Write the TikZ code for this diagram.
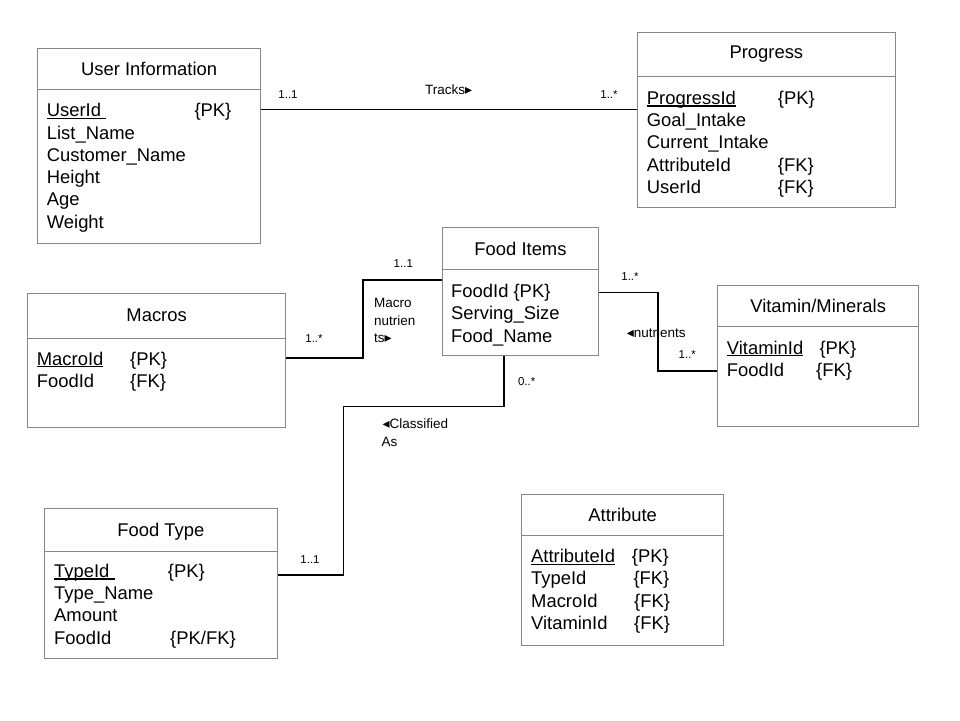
\documentclass[tikz,border=0pt]{standalone}
\usepackage{fontspec}
\setmainfont{Liberation Sans}
\newfontfamily\symfont{DejaVu Sans}
\usetikzlibrary{calc}
\definecolor{boxgray}{RGB}{135,135,135}
\newcommand{\ulx}[1]{\setbox0\hbox{#1}\rlap{\rule[-2.3pt]{\wd0}{1.2pt}}\box0}
\newcommand{\rtri}{{\symfont\fontsize{14}{14}\selectfont ▸}}
\newcommand{\ltri}{{\symfont\fontsize{14}{14}\selectfont ◂}}
\tikzset{
  ebox/.style={draw=boxgray, line width=1pt, inner sep=0, anchor=north west},
  divline/.style={draw=boxgray, line width=1pt},
  attr/.style={anchor=base west, inner sep=0, font=\fontsize{18.4}{22}\selectfont},
  ttl/.style={anchor=base, inner sep=0, font=\fontsize{18.4}{22}\selectfont},
  lbl/.style={anchor=west, inner sep=0, font=\fontsize{13.5}{16}\selectfont},
  mult/.style={anchor=center, inner sep=0, font=\fontsize{11.5}{13}\selectfont},
  conn/.style={draw=black, line width=1.1pt}
}
\begin{document}
\begin{tikzpicture}[x=1pt,y=-1pt]
\useasboundingbox (0,0) rectangle (960,720);
\fill[white] (0,0) rectangle (960,720);

% User Information
\node[ebox, minimum width=222.7, minimum height=195] (ui) at (37.3,48.3) {};
\draw[divline] (ui.west |- 0,89.3) -- (ui.east |- 0,89.3);
\node[ttl] (uiT) at (ui.north |- 0,75.5) {User Information};
\node[attr] (ui1) at (46.7,116.7) {\ulx{UserId\ }};
\node[attr] (ui1k) at (194.3,116.7) {\{PK\}};
\node[attr] (ui2) at (46.7,139) {List\_Name};
\node[attr] (ui3) at (46.7,161.3) {Customer\_Name};
\node[attr] (ui4) at (46.7,183.6) {Height};
\node[attr] (ui5) at (46.7,205.9) {Age};
\node[attr] (ui6) at (46.7,228.2) {Weight};

% Progress
\node[ebox, minimum width=258.3, minimum height=175] (pr) at (636.7,31.7) {};
\draw[divline] (pr.west |- 0,76.7) -- (pr.east |- 0,76.7);
\node[ttl] (prT) at (pr.north |- 0,58) {Progress};
\node[attr] (pr1) at (646.7,104.3) {\ulx{ProgressId}};
\node[attr] (pr1k) at (777.7,104.3) {\{PK\}};
\node[attr] (pr2) at (646.7,126.6) {Goal\_Intake};
\node[attr] (pr3) at (646.7,148.9) {Current\_Intake};
\node[attr] (pr4) at (646.7,171.2) {AttributeId};
\node[attr] (pr4k) at (777.7,171.2) {\{FK\}};
\node[attr] (pr5) at (646.7,193.5) {UserId};
\node[attr] (pr5k) at (777.7,193.5) {\{FK\}};

% Food Items
\node[ebox, minimum width=156.6, minimum height=127.7] (fi) at (441.7,227.3) {};
\draw[divline] (fi.west |- 0,269.3) -- (fi.east |- 0,269.3);
\node[ttl] (fiT) at (fi.north |- 0,255) {Food Items};
\node[attr] (fi1) at (451,297.5) {FoodId \{PK\}};
\node[attr] (fi2) at (451,319.8) {Serving\_Size};
\node[attr] (fi3) at (451,342.1) {Food\_Name};

% Macros
\node[ebox, minimum width=257.7, minimum height=133.4] (ma) at (27.3,293.3) {};
\draw[divline] (ma.west |- 0,338.3) -- (ma.east |- 0,338.3);
\node[ttl] (maT) at (ma.north |- 0,321.6) {Macros};
\node[attr] (ma1) at (36.7,365) {\ulx{MacroId}};
\node[attr] (ma1k) at (130,365) {\{PK\}};
\node[attr] (ma2) at (36.7,387.3) {FoodId};
\node[attr] (ma2k) at (130,387.3) {\{FK\}};

% Vitamin/Minerals
\node[ebox, minimum width=200.7, minimum height=141] (vm) at (717.3,285) {};
\draw[divline] (vm.west |- 0,326) -- (vm.east |- 0,326);
\node[ttl] (vmT) at (vm.north |- 0,312.5) {Vitamin/Minerals};
\node[attr] (vm1) at (726.7,354) {\ulx{VitaminId}};
\node[attr] (vm1k) at (819.3,354) {\{PK\}};
\node[attr] (vm2) at (726.7,376.3) {FoodId};
\node[attr] (vm2k) at (816,376.3) {\{FK\}};

% Food Type
\node[ebox, minimum width=232.7, minimum height=150] (ft) at (44,508.3) {};
\draw[divline] (ft.west |- 0,551) -- (ft.east |- 0,551);
\node[ttl] (ftT) at (ft.north |- 0,536.5) {Food Type};
\node[attr] (ft1) at (54,577.3) {\ulx{TypeId\ }};
\node[attr] (ft1k) at (167.7,577.3) {\{PK\}};
\node[attr] (ft2) at (54,599.6) {Type\_Name};
\node[attr] (ft3) at (54,621.9) {Amount};
\node[attr] (ft4) at (54,644.2) {FoodId};
\node[attr] (ft4k) at (170,644.2) {\{PK/FK\}};

% Attribute
\node[ebox, minimum width=202.3, minimum height=151] (at) at (521,494) {};
\draw[divline] (at.west |- 0,535) -- (at.east |- 0,535);
\node[ttl] (atT) at (at.north |- 0,521.5) {Attribute};
\node[attr] (at1) at (531,562.5) {\ulx{AttributeId}};
\node[attr] (at1k) at (631.7,562.5) {\{PK\}};
\node[attr] (at2) at (531,584.8) {TypeId};
\node[attr] (at2k) at (633.3,584.8) {\{FK\}};
\node[attr] (at3) at (531,607.1) {MacroId};
\node[attr] (at3k) at (634,607.1) {\{FK\}};
\node[attr] (at4) at (531,629.4) {VitaminId};
\node[attr] (at4k) at (634,629.4) {\{FK\}};

% Connectors
\draw[conn] (ui.east |- 0,109.3) -- (pr.west |- 0,109.3);
\node[mult] (m1) at (288,94.5) {1..1};
\node[lbl] (r1) at (425,89.7) {Tracks\rtri};
\node[mult] (m2) at (609,94.5) {1..*};

\draw[conn] (ma.east |- 0,358) -- (363,358) -- (363,280) -- (fi.west |- 0,280);
\node[mult] (m3) at (403.3,263.3) {1..1};
\node[mult] (m4) at (314,338.3) {1..*};
\node[lbl] (r2a) at (374,303.3) {Macro};
\node[lbl] (r2b) at (374,320.8) {nutrien};
\node[lbl] (r2c) at (374,338.5) {ts\rtri};

\draw[conn] (fi.east |- 0,292.5) -- (658,292.5) -- (658,371) -- (vm.west |- 0,371);
\node[mult] (m5) at (630,276.7) {1..*};
\node[lbl] (r3) at (626.7,332.3) {\ltri nutrients};
\node[mult] (m6) at (687.3,355) {1..*};

\draw[conn] (fi.south -| 504,0) -- (504,406.7) -- (343.3,406.7) -- (343.3,575) -- (ft.east |- 0,575);
\node[mult] (m7) at (526.7,381.7) {0..*};
\node[lbl] (r4a) at (382.5,424) {\ltri Classified};
\node[lbl] (r4b) at (381.5,442) {As};
\node[mult] (m8) at (310,560) {1..1};
\end{tikzpicture}
\end{document}
